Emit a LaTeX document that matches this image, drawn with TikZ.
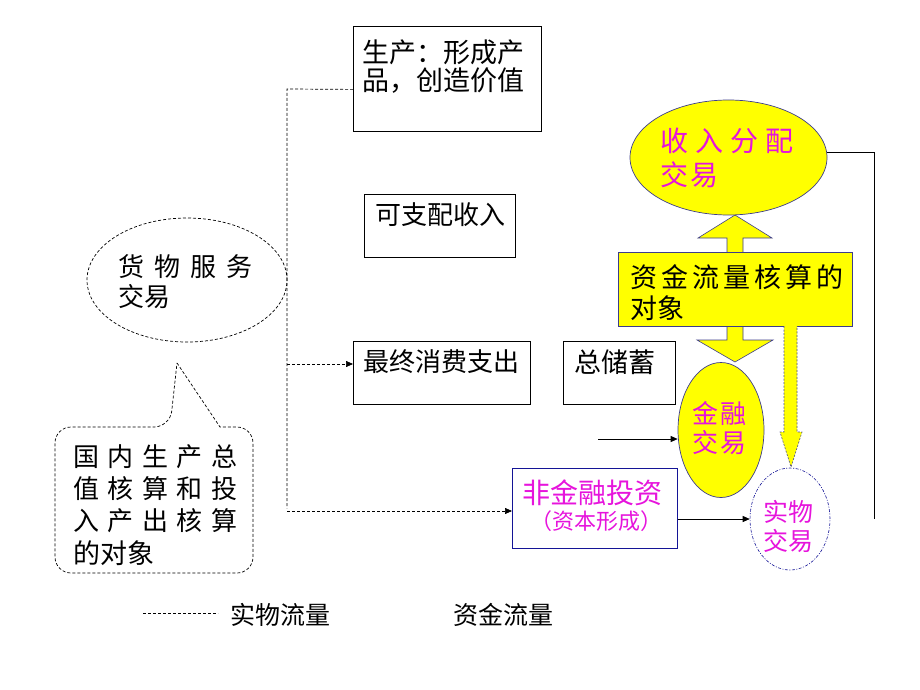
\documentclass[tikz,border=0pt]{standalone}
\usepackage{fontspec}
\setmainfont{Noto Sans CJK SC}
\usetikzlibrary{arrows.meta,calc,shapes.geometric}
\definecolor{mag}{RGB}{230,20,220}
\definecolor{ylw}{RGB}{255,255,0}
\definecolor{edgeblue}{RGB}{60,60,140}
\definecolor{navy}{RGB}{20,20,150}
\newcommand\fs[1]{\fontsize{#1}{#1}\selectfont}
\begin{document}
\begin{tikzpicture}[x=1pt,y=-1pt,
 box/.style={draw,line width=0.8pt,inner sep=0pt,anchor=north west},
 txt/.style={anchor=west,inner sep=0pt,font=\fs{26}},
 mtxt/.style={txt,text=mag},
 dsh/.style={dash pattern=on 3pt off 2pt,line width=0.7pt},
 arr/.style={-{Triangle[length=7pt,width=6pt]}},
 yell/.style={draw=edgeblue,line width=0.7pt,fill=ylw,ellipse,inner sep=0pt},
]
\useasboundingbox (0,0) rectangle (920,690);

% block double arrow behind
\draw[fill=ylw,draw=edgeblue,line width=0.6pt] (735,215) -- (772,238) -- (743,238) -- (743,340) -- (773,340) -- (735,362) -- (697,340) -- (727,340) -- (727,238) -- (698,238) -- cycle;

% boxes
\node[box,minimum width=188pt,minimum height=105pt] (prod) at (353,26) {};
\node[box,minimum width=151pt,minimum height=63pt] (disp) at (364,194) {};
\node[box,minimum width=177pt,minimum height=63pt] (cons) at (353,341) {};
\node[box,minimum width=112pt,minimum height=63pt] (sav) at (563,341) {};
\node[box,draw=navy,minimum width=165pt,minimum height=80pt] (nfi) at (512,468) {};
\node[box,draw=edgeblue,fill=ylw,minimum width=234pt,minimum height=74pt,line width=0.7pt] (obj) at (618,252) {};

% ellipses
\node[yell,minimum width=197pt,minimum height=115pt] (inc) at (728.5,157.5) {};
\node[yell,minimum width=86pt,minimum height=135pt] (fin) at (721,430) {};
\node[draw=navy,ellipse,inner sep=0pt,line width=0.6pt,dash pattern=on 3pt off 1.5pt on 1pt off 1.5pt,minimum width=80pt,minimum height=102pt] (real) at (790,519) {};
\node[draw,ellipse,inner sep=0pt,dsh,minimum width=200pt,minimum height=124pt] (goods) at (187,280) {};

% dashed yellow arrow
\draw[fill=ylw,draw=edgeblue!70!gray,dash pattern=on 2pt off 1.5pt,line width=0.6pt] (784,326) -- (784,432) -- (780,432) -- (791,467) -- (802,432) -- (797,432) -- (797,326);

% callout
\draw[dsh] (177,363) -- (220,427) [rounded corners=16pt] -- (253,427) -- (253,573) -- (55,573) -- (55,427) -- (170,427) [sharp corners] -- (177,363);

% texts
\node[txt,font=\fs{27}] (t1) at (362,52) {生产：形成产};
\node[txt,font=\fs{27}] (t2) at (362,81) {品，创造价值};
\node[txt] (t3) at (375,215) {可支配收入};
\node[txt] (t4) at (363,362) {最终消费支出};
\node[txt,font=\fs{27}] (t5) at (574,362) {总储蓄};
\node[txt] (t6) at (118,267) {货\kern10pt物\kern10pt服\kern10pt务};
\node[txt] (t7) at (118,297) {交易};
\node[txt] (c1) at (73,457) {国\kern8.5pt内\kern8.5pt生\kern8.5pt产\kern8.5pt总};
\node[txt] (c2) at (73,489) {值\kern8.5pt核\kern8.5pt算\kern8.5pt和\kern8.5pt投};
\node[txt] (c3) at (73,521) {入\kern8.5pt产\kern8.5pt出\kern8.5pt核\kern8.5pt算};
\node[txt,font=\fs{27}] (c4) at (73,553) {的对象};
\node[mtxt,font=\fs{28}] (i1) at (660,141) {收\kern7pt入\kern7pt分\kern7pt配};
\node[mtxt,font=\fs{28}] (i2) at (660,175) {交\kern2pt易};
\node[txt,font=\fs{27}] (o1) at (630,277) {资\kern4pt金\kern4pt流\kern4pt量\kern4pt核\kern4pt算\kern4pt的};
\node[txt,font=\fs{27}] (o2) at (630,308) {对象};
\node[mtxt] (f1) at (692,413) {金\kern2pt融};
\node[mtxt] (f2) at (692,443) {交\kern2pt易};
\node[mtxt,font=\fs{25}] (r1) at (763,512) {实物};
\node[mtxt,font=\fs{25}] (r2) at (763,541) {交易};
\node[mtxt,font=\fs{28}] (n1) at (522,493) {非金融投资};
\node[mtxt,font=\fs{22}] (n2) at (530,521) {（资本形成）};
\node[txt,font=\fs{25}] (l1) at (230,615) {实物流量};
\node[txt,font=\fs{25}] (l2) at (453,615) {资金流量};

% connectors
\coordinate (trunk) at (287,89);
\coordinate (lg1) at (143,613);
\coordinate (lg2) at (218,613);
\coordinate (rcorner) at (874,152);
\coordinate (rend) at (874,519);
\coordinate (fstart) at (598,439);
\draw[dsh] ([yshift=-10.5pt]prod.west) -- (trunk) -- (trunk |- nfi.west);
\draw[dsh,arr] (trunk |- 0,364) -- (cons.west |- 0,364);
\draw[dsh,arr] (trunk |- 0,511) -- (nfi.west |- 0,511);
\draw[line width=0.7pt] (inc.east |- rcorner) -- (rcorner) -- (rend);
\draw[line width=0.7pt,arr] (fstart) -- (fin.west |- fstart);
\draw[line width=0.7pt,arr] (nfi.east |- 0,519) -- (real.west);
\draw[dsh] (lg1) -- (lg2);
\end{tikzpicture}
\end{document}
